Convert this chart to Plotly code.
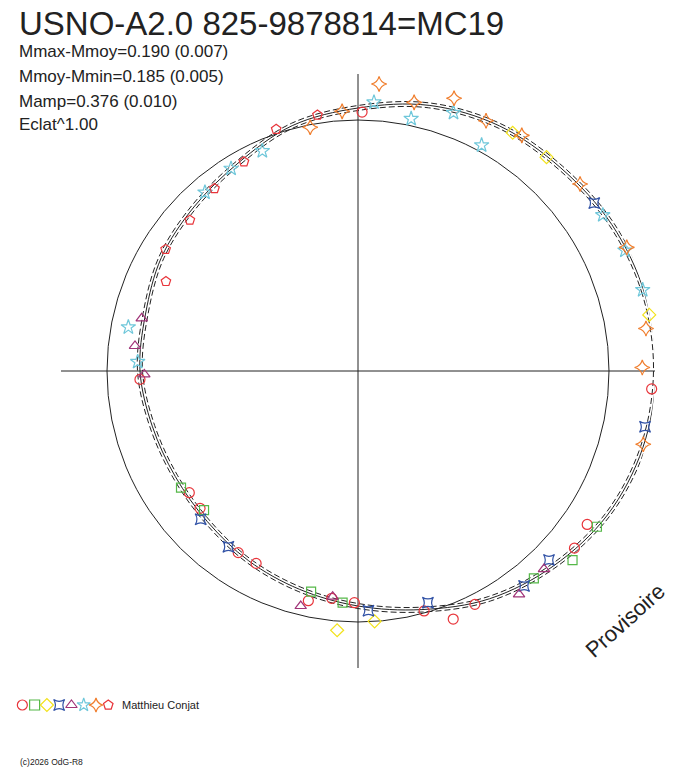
import plotly.graph_objects as go

# Polar light curve: angle = phase (degrees), radius in plot units (reference circle = 251)
ref_radius = 251
outer_radius = 297

# fitted curve and its envelope
fit_theta = [0, 15, 30, 45, 60, 75, 90, 105, 120, 135, 150, 165, 180,
             195, 210, 225, 240, 255, 270, 285, 300, 315, 330, 345, 360]
fit_r = [298, 297, 293, 287, 283, 275, 263, 254, 240, 232, 227, 220, 218,
         213, 211, 213, 219, 226, 235, 247, 263, 276, 288, 295, 298]
fit_r_hi = [300.5, 299.5, 295.5, 289.5, 285.5, 277.5, 265.5, 256.5, 242.5, 234.5, 229.5, 222.5, 220.5,
            215.5, 213.5, 215.5, 221.5, 228.5, 237.5, 249.5, 265.5, 278.5, 290.5, 297.5, 300.5]
fit_r_lo = [295.5, 294.5, 290.5, 284.5, 280.5, 272.5, 260.5, 251.5, 237.5, 229.5, 224.5, 217.5, 215.5,
            210.5, 208.5, 210.5, 216.5, 223.5, 232.5, 244.5, 260.5, 273.5, 285.5, 292.5, 295.5]

# observations, one pair of lists per observer / symbol
circle_theta = [89.1, 18.4, 12.9, 356.5, 350.9, 326.2, 320.7, 296.6, 291.0, 285.4,
                269.1, 263.4, 257.8, 242.1, 236.6, 221.0, 215.8, 182.2]
circle_r = [259, 297.2, 302.4, 294.2, 300.1, 275.8, 279.7, 261.0, 265.7, 248.9,
            231.7, 228.8, 235.0, 217.7, 217.6, 209.3, 208.0, 218.2]

square_theta = [326.9, 318.6, 310.3, 266.2, 258.0, 222.1, 213.4]
square_r = [285.2, 286.0, 271.9, 232.2, 225.6, 207.5, 212.0]

diamond_theta = [57.0, 48.6, 10.9, 2.6, 327.5, 319.1, 273.8, 265.4]
diamond_r = [284.1, 285.1, 296.6, 302.3, 304.7, 312.6, 250.9, 260.1]

starsq_theta = [35.4, 27.7, 349.0, 341.5, 315.3, 307.7, 286.8, 272.5, 233.6, 223.3]
starsq_r = [289.8, 297.9, 292.4, 313.9, 268.7, 271.6, 242.0, 239.9, 218.4, 216.2]

triangle_theta = [313.2, 305.8, 263.6, 256.3, 180.9, 173.6, 166.3]
triangle_r = [271.7, 275.3, 227.1, 241.9, 213.7, 224.4, 222.6]

star_theta = [86.6, 78.1, 69.7, 61.3, 32.5, 24.3, 15.9, 113.5, 122.1, 130.6, 169.2, 177.6]
star_r = [269.2, 257.8, 275.3, 257.4, 290.2, 292.9, 296.0, 239.9, 238.9, 235.2, 233.8, 220.5]

stardia_theta = [85.8, 78.2, 70.6, 62.9, 55.2, 47.7, 40.1, 32.4, 24.7, 17.0, 8.4,
                 0.7, 353.3, 345.6, 338.0, 93.5, 101.1]
stardia_r = [287.8, 274.5, 289.2, 281.1, 287.0, 304.8, 290.3, 310.6, 295.8, 311.3, 291.1,
             284.3, 299.1, 294.5, 302.2, 260.2, 248.4]

penta_theta = [108.7, 99.0, 118.6, 128.2, 138.1, 147.7, 155.0]
penta_r = [255.2, 259.2, 238.3, 232.1, 225.9, 227.6, 211.9]

symbols = ['circle-open', 'square-open', 'diamond-open', 'star-square-open',
           'triangle-up-open', 'star-open', 'star-diamond-open', 'pentagon-open']
colors = ['#e8353b', '#55b848', '#f2e21a', '#3152a6',
          '#a03478', '#6fc7da', '#f07d2c', '#e8353b']
sizes = [10, 9, 10, 10, 10, 11, 11, 10]
obs = [(circle_theta, circle_r), (square_theta, square_r), (diamond_theta, diamond_r),
       (starsq_theta, starsq_r), (triangle_theta, triangle_r), (star_theta, star_r),
       (stardia_theta, stardia_r), (penta_theta, penta_r)]

ink = '#222222'
font = 'Liberation Sans, Arial, sans-serif'

# the page body adds an 8px margin, so the figure is laid out 8px smaller
W, H, OFF = 680, 760, 8


def px(x):
    return (x - OFF) / W


def py(y):
    return 1 - (y - OFF) / H


fig = go.Figure()

fig.add_trace(go.Scatterpolar(theta=fit_theta, r=fit_r, mode='lines',
                              line=dict(color=ink, width=1, shape='spline')))
for rr in (fit_r_hi, fit_r_lo):
    fig.add_trace(go.Scatterpolar(theta=fit_theta, r=rr, mode='lines',
                                  line=dict(color=ink, width=1, shape='spline', dash='6px,3px')))

for (th, rr), sym, col, sz in zip(obs, symbols, colors, sizes):
    fig.add_trace(go.Scatterpolar(theta=th, r=rr, mode='markers', cliponaxis=False,
                                  marker=dict(symbol=sym, size=sz, color=col,
                                              line=dict(color=col, width=1.2))))

# symbol key at the bottom
fig.add_trace(go.Scatter(x=list(range(len(symbols))), y=[0] * len(symbols), mode='markers',
                         xaxis='x', yaxis='y', cliponaxis=False,
                         marker=dict(symbol=symbols, size=10, color=colors,
                                     line=dict(color=colors, width=1.2))))

fig.update_layout(
    width=W, height=H,
    margin=dict(l=0, r=0, t=0, b=0),
    paper_bgcolor='white', plot_bgcolor='white',
    showlegend=False,
    polar=dict(
        domain=dict(x=[px(61), px(655)], y=[py(668), py(74)]),
        bgcolor='white',
        radialaxis=dict(range=[0, outer_radius], tickvals=[ref_radius], showticklabels=False,
                        ticks='', showline=False, gridcolor=ink, gridwidth=1),
        angularaxis=dict(tickvals=[0, 90, 180, 270], showticklabels=False, ticks='',
                         showline=False, gridcolor=ink, gridwidth=1,
                         rotation=0, direction='counterclockwise'),
    ),
    xaxis=dict(domain=[px(16.2), px(114.4)], range=[-0.5, 7.5], visible=False, fixedrange=True),
    yaxis=dict(domain=[py(714), py(696)], range=[-1, 1], visible=False, fixedrange=True),
)


def label(text, x, y, size, **kw):
    fig.add_annotation(text=text, x=px(x), y=py(y), xref='paper', yref='paper',
                       showarrow=False, xanchor=kw.pop('xanchor', 'left'), yanchor='middle',
                       borderpad=0, font=dict(family=font, size=size, color=ink), **kw)


label('USNO-A2.0 825-9878814=MC19', 18, 23, 33)
label('Mmax-Mmoy=0.190 (0.007)', 18, 52, 17)
label('Mmoy-Mmin=0.185 (0.005)', 18, 76.5, 17)
label('Mamp=0.376 (0.010)', 18, 101, 17)
label('Eclat^1.00', 18, 125, 17)
label('Matthieu Conjat', 121, 705, 11)
label('(c)2026 OdG-R8', 19, 762, 8.5)
label('Provisoire', 625, 620, 22, xanchor='center', textangle=-42)

fig.write_html('out.html')
